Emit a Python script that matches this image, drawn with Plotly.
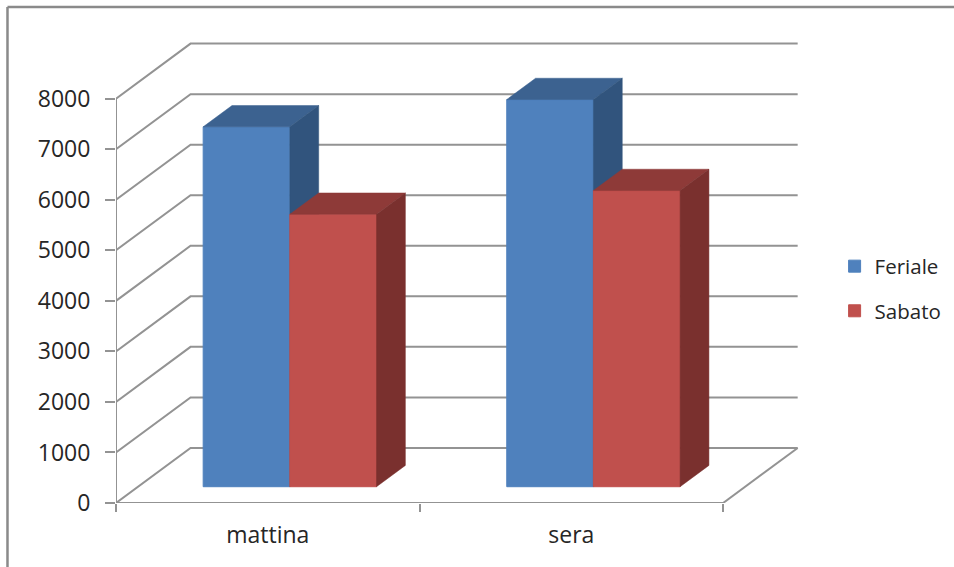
import plotly.graph_objects as go

# Chart data
categories = ["mattina", "sera"]
feriale = [7120, 7660]
sabato = [5390, 5860]
tick_values = [0, 1000, 2000, 3000, 4000, 5000, 6000, 7000, 8000]

# Oblique projection of the 3D box: one full unit of depth moves a point
# by this much along the category and value axes.
DEPTH_X = 0.2455
DEPTH_Y = 1089
BAR_FRONT = 0.296
BAR_BACK = 0.683
BAR_WIDTH = 0.2855
N_CATS = len(categories)

X_RANGE = [0, 2.296]
Y_RANGE = [0, 9200]
M_LEFT, M_TOP, M_BOTTOM = 116, 38.4, 64
M_RIGHT = 141.1
PLOT_W = 954 - M_LEFT - M_RIGHT
PLOT_H = 567 - M_TOP - M_BOTTOM

GRID = "#939393"
TEXT = "#262626"
FONT = "Open Sans"


def project(x, y, depth):
    return x + DEPTH_X * depth, y + DEPTH_Y * depth


def paper_x(px):
    return (px - M_LEFT) / PLOT_W


def paper_y(py):
    return (567 - M_BOTTOM - py) / PLOT_H


# Gridlines run up the side wall and along the back wall
grid_x, grid_y = [], []
for v in tick_values:
    bx, by = project(0, v, 1)
    ex, ey = project(N_CATS, v, 1)
    grid_x += [0, bx, ex, None]
    grid_y += [v, by, ey, None]

# Floor outline and the two front axis lines
bx, by = project(N_CATS, 0, 1)
frame_x = [N_CATS, bx, None, 0, N_CATS, None, 0, 0]
frame_y = [0, by, None, 0, 0, None, 0, tick_values[-1]]

fig = go.Figure()
fig.add_trace(go.Scatter(x=grid_x, y=grid_y, mode="lines", showlegend=False,
                         hoverinfo="skip", cliponaxis=False, zorder=0,
                         line=dict(color=GRID, width=2)))
fig.add_trace(go.Scatter(x=frame_x, y=frame_y, mode="lines", showlegend=False,
                         hoverinfo="skip", cliponaxis=False, zorder=0,
                         line=dict(color=GRID, width=2)))


def add_series(name, values, slot, front, top, side, layer):
    base = BAR_FRONT * DEPTH_Y
    lefts = [i + 0.5 + BAR_FRONT * DEPTH_X + (slot - 1) * BAR_WIDTH
             for i in range(len(values))]
    fig.add_trace(go.Bar(
        x=lefts, y=values, base=base, width=BAR_WIDTH, offset=0, name=name,
        legendgroup=name, zorder=layer,
        marker=dict(color=front, line=dict(width=1, color=front)),
    ))
    depth = BAR_BACK - BAR_FRONT
    for left, v in zip(lefts, values):
        right = left + BAR_WIDTH
        y_top = base + v
        dx, dy = depth * DEPTH_X, depth * DEPTH_Y
        fig.add_trace(go.Scatter(
            x=[left, right, right + dx, left + dx, left],
            y=[y_top, y_top, y_top + dy, y_top + dy, y_top],
            mode="lines", fill="toself", fillcolor=top, showlegend=False,
            hoverinfo="skip", zorder=layer, line=dict(color=top, width=0.5),
        ))
        fig.add_trace(go.Scatter(
            x=[right, right + dx, right + dx, right, right],
            y=[y_top, y_top + dy, base + dy, base, y_top],
            mode="lines", fill="toself", fillcolor=side, showlegend=False,
            hoverinfo="skip", zorder=layer, line=dict(color=side, width=0.5),
        ))


add_series("Feriale", feriale, 0, "#4F81BD", "#3C6290", "#31547D", 1)
add_series("Sabato", sabato, 1, "#C0504D", "#8E3A38", "#7A302E", 2)

fig.update_layout(
    width=954, height=567,
    margin=dict(l=M_LEFT, r=M_RIGHT, t=M_TOP, b=M_BOTTOM, pad=0, autoexpand=False),
    paper_bgcolor="white", plot_bgcolor="white",
    font=dict(family=FONT, color=TEXT),
    xaxis=dict(
        range=X_RANGE, showgrid=False, zeroline=False, showline=False,
        tickmode="array", tickvals=[i + 0.5 for i in range(N_CATS)],
        ticktext=categories, ticks="", ticklabelstandoff=16,
        tickfont=dict(size=23, family=FONT, color=TEXT),
        minor=dict(tickmode="array", tickvals=list(range(N_CATS + 1)),
                   ticks="outside", ticklen=8, tickwidth=2, tickcolor=GRID,
                   showgrid=False),
    ),
    yaxis=dict(
        range=Y_RANGE, showgrid=False, zeroline=False, showline=False,
        tickmode="array", tickvals=tick_values, ticks="outside",
        ticklen=10, tickwidth=2, tickcolor=GRID, ticklabelstandoff=10,
        tickfont=dict(size=23, family=FONT, color=TEXT),
    ),
    legend=dict(
        x=paper_x(834.5), y=paper_y(289), xanchor="left", yanchor="middle",
        traceorder="grouped", tracegroupgap=15,
        font=dict(size=20.5, family=FONT, color=TEXT),
        bgcolor="rgba(0,0,0,0)",
    ),
    shapes=[
        dict(type="line", xref="paper", yref="paper", layer="below",
             x0=paper_x(7.5), y0=paper_y(7.5), x1=paper_x(7.5), y1=paper_y(567),
             line=dict(color="#8a8a8a", width=2.5)),
        dict(type="line", xref="paper", yref="paper", layer="below",
             x0=paper_x(7.5), y0=paper_y(7.5), x1=paper_x(954), y1=paper_y(7.5),
             line=dict(color="#8a8a8a", width=2.5)),
    ],
)

fig.write_html("out.html", config=dict(displayModeBar=False))
